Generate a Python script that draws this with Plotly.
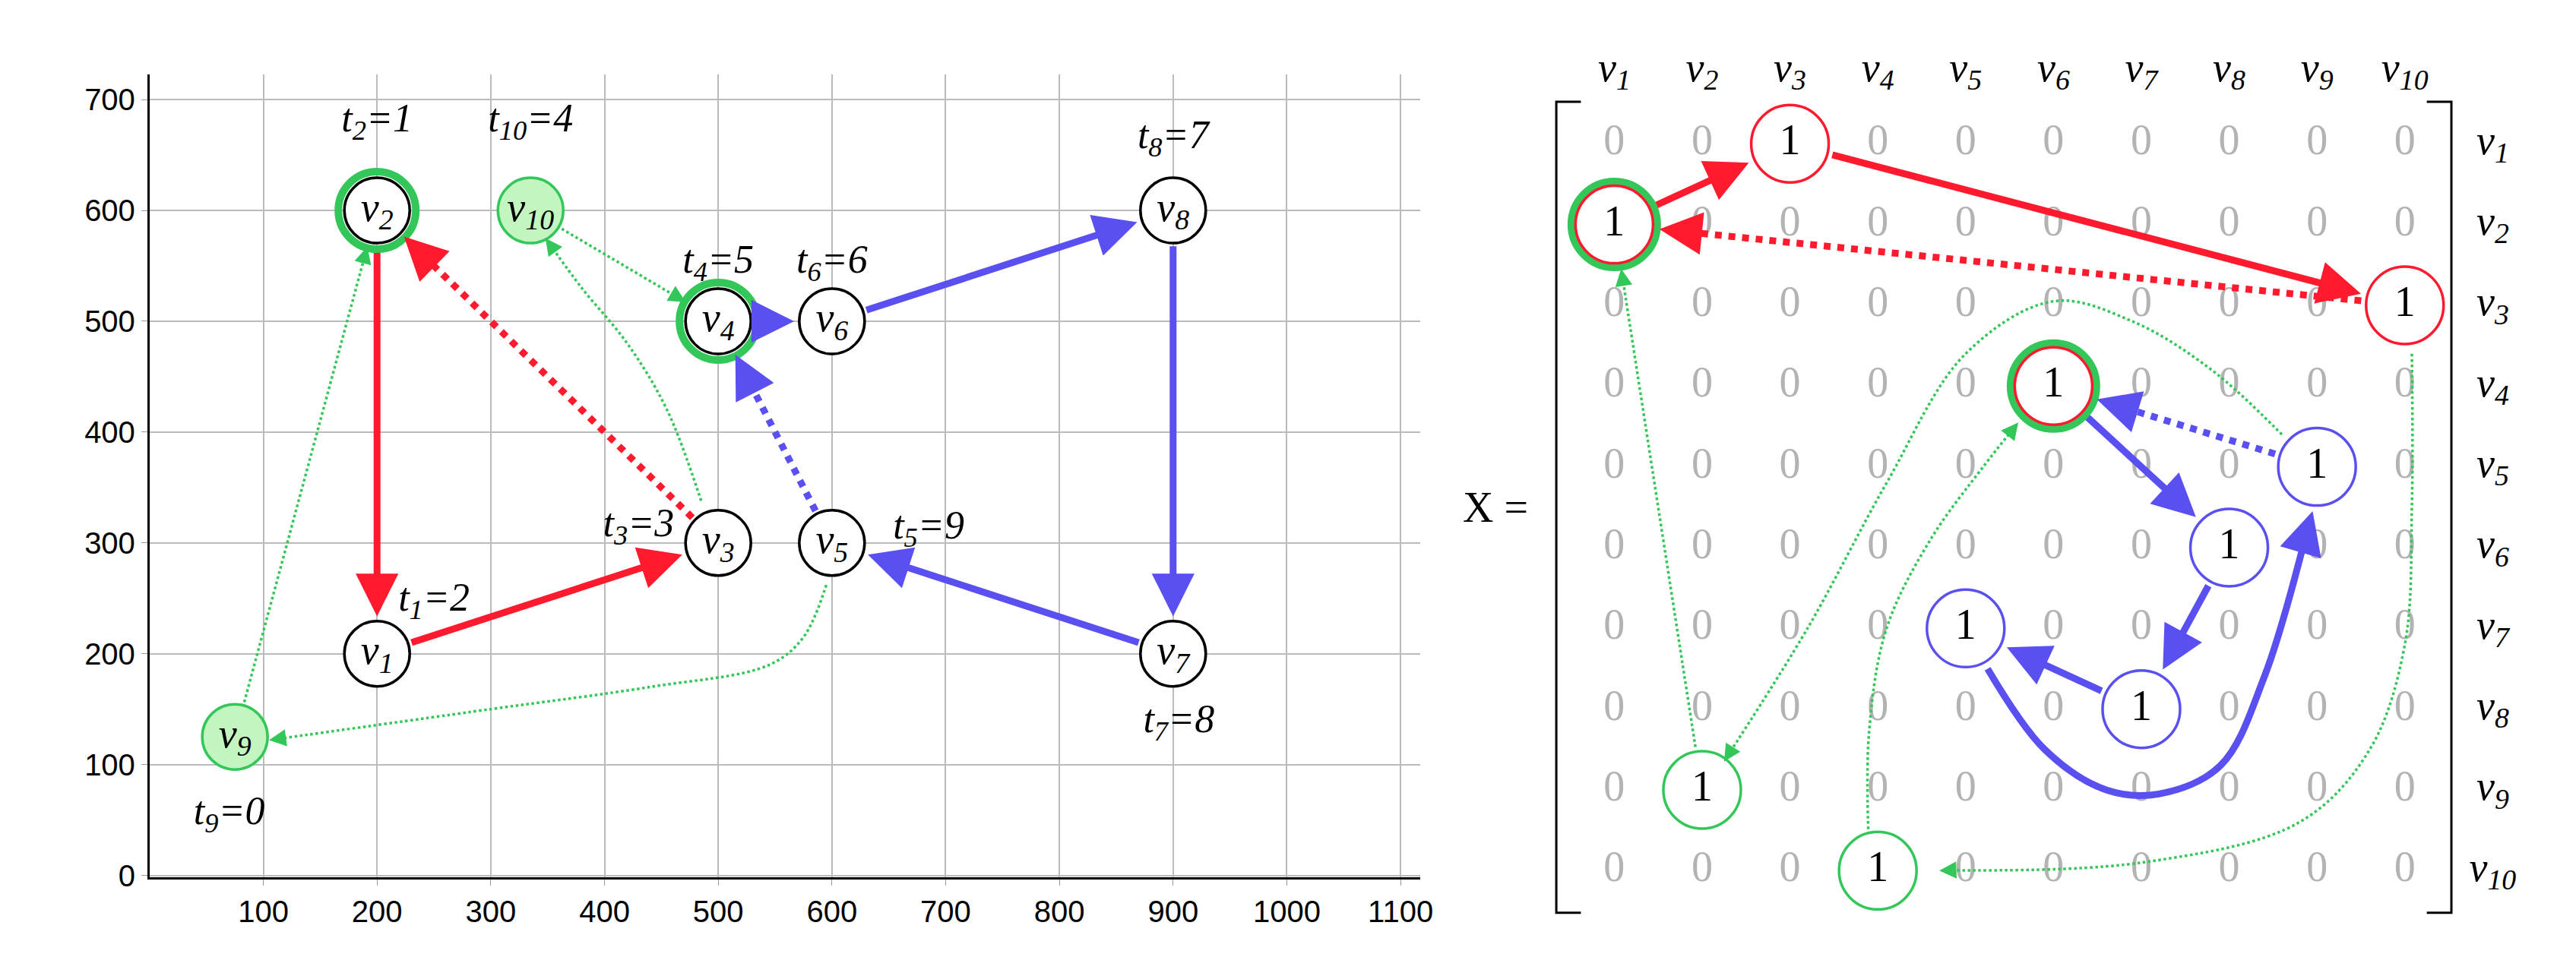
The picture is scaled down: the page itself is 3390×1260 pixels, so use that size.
import numpy as np
import plotly.graph_objects as go

W, H = 3390, 1260
RED, BLUE, GREEN = "#ff1a2e", "#5a4ff0", "#33c759"
LIGHTG = "#c2f5c0"
SERIF = "Liberation Serif"

# ---- left graph data ----
node_x = [200, 200, 500, 500, 600, 600, 900, 900, 75, 335]
node_y = [200, 600, 300, 500, 300, 500, 200, 600, 125, 600]
t_vals = [2, 1, 3, 5, 9, 6, 8, 7, 0, 4]
t_lab_x = [250, 200, 430, 500, 685, 600, 905, 900, 70, 335]
t_lab_y = [248, 680, 315, 553, 313, 553, 138, 665, 55, 680]
ringed = [1, 3]          # v2, v4 green ring
filled = [8, 9]          # v9, v10 light green

# edges: (from, to, colour, style)
g_edges = [(1, 0, RED, "solid"), (0, 2, RED, "solid"), (2, 1, RED, "dot"),
           (3, 5, BLUE, "solid"), (5, 7, BLUE, "solid"), (7, 6, BLUE, "solid"),
           (6, 4, BLUE, "solid"), (4, 3, BLUE, "dot"),
           (8, 1, GREEN, "thin"), (9, 3, GREEN, "thin")]
g_curves = [([485, 455, 420, 380, 348], [338, 420, 480, 530, 575]),
            ([595, 575, 545, 440, 300, 105], [262, 215, 190, 170, 150, 122])]

# ---- matrix data ----
perm_col = [3, 1, 10, 6, 9, 8, 5, 7, 2, 4]   # column of the 1 in each row
row_col = [RED, RED, RED, RED, BLUE, BLUE, BLUE, BLUE, GREEN, GREEN]
m_ring = [2, 4]
m_edges = [(2, 1, RED, "solid"), (1, 3, RED, "solid"), (3, 2, RED, "dot"),
           (4, 6, BLUE, "solid"), (6, 8, BLUE, "solid"), (8, 7, BLUE, "solid"),
           (5, 4, BLUE, "dot"), (9, 2, GREEN, "thin")]
m_curves = [([5.25, 5.9, 6.6, 7.2, 7.9, 8.4, 8.95], [7.5, 8.5, 9.0, 9.05, 8.7, 7.6, 5.55], BLUE, "thick"),
            ([3.9, 3.9, 4.1, 4.6, 5.2, 5.6], [9.75, 8.3, 7.0, 5.9, 5.0, 4.45], GREEN, "thin"),
            ([8.6, 7.8, 6.9, 6.0, 5.0, 4.1, 3.2, 2.25], [4.6, 3.8, 3.2, 2.95, 3.6, 5.2, 7.0, 8.65], GREEN, "thin"),
            ([10.08, 10.08, 10.0, 9.6, 8.8, 7.0, 4.7], [3.6, 5.5, 7.2, 8.5, 9.4, 9.9, 10.0], GREEN, "thin")]
labels = ["v<sub>%d</sub>" % i for i in range(1, 11)]

# axes geometry
XD, YD, XR, YR = [0.056, 0.5516], [0.0754, 0.9278], [0, 1117], [-2, 723]
X2D, Y2D, X2R, Y2R = [0.5589, 0.9873], [0.0056, 0.9825], [-1, 11.5], [10.9, -0.5]


def to_px(x, y, xd, yd, xr, yr):
    px = W * (xd[0] + (x - xr[0]) / (xr[1] - xr[0]) * (xd[1] - xd[0]))
    py = H * (yd[0] + (y - yr[0]) / (yr[1] - yr[0]) * (yd[1] - yd[0]))
    return px, py


def from_px(px, py, xd, yd, xr, yr):
    x = xr[0] + (px / W - xd[0]) / (xd[1] - xd[0]) * (xr[1] - xr[0])
    y = yr[0] + (py / H - yd[0]) / (yd[1] - yd[0]) * (yr[1] - yr[0])
    return x, y


fig = go.Figure()
ann = []


def arrow(xs, ys, col, style, geo, xa, ya, r0=0, r1=0):
    p = [list(to_px(a, b, *geo)) for a, b in zip(xs, ys)]
    if r0:
        d = np.subtract(p[1], p[0]); d /= np.hypot(*d)
        p[0] = list(np.add(p[0], d * r0))
    if r1:
        d = np.subtract(p[-1], p[-2]); d /= np.hypot(*d)
        p[-1] = list(np.subtract(p[-1], d * r1))
    w = {"solid": 9, "dot": 9, "thin": 3.5, "thick": 9}[style]
    dash = {"solid": "solid", "dot": "dot", "thin": "dot", "thick": "solid"}[style]
    d = np.subtract(p[-1], p[-2]); d /= np.hypot(*d)
    hl = 2.5 * w if style != "thin" else 14
    tail = np.subtract(p[-1], d * hl)
    pts = p[:-1] + [list(tail)]
    dx = [from_px(a, b, *geo)[0] for a, b in pts]
    dy = [from_px(a, b, *geo)[1] for a, b in pts]
    fig.add_trace(go.Scatter(x=dx, y=dy, mode="lines", xaxis=xa, yaxis=ya, hoverinfo="skip",
                             line=dict(color=col, width=w, dash=dash, shape="spline"), showlegend=False))
    hx, hy = from_px(*p[-1], *geo)
    bx, by = from_px(*tail, *geo)
    ann.append(dict(x=hx, y=hy, ax=bx, ay=by, xref=xa, yref=ya, axref=xa, ayref=ya,
                    showarrow=True, arrowhead=2, arrowcolor=col, text=" ",
                    font=dict(size=1), standoff=0,
                    arrowwidth=w if style != "thin" else 3,
                    arrowsize=1.25 if style != "thin" else 1.5))


G1 = (XD, YD, XR, YR)
G2 = (X2D, Y2D, X2R, Y2R)

# left graph edges
for a, b, c, s in g_edges:
    arrow([node_x[a], node_x[b]], [node_y[a], node_y[b]], c, s, G1, "x", "y", 48, 50)
for cx, cy in g_curves:
    arrow(cx, cy, GREEN, "thin", G1, "x", "y")

# left nodes
rx = [node_x[i] for i in ringed]; ry = [node_y[i] for i in ringed]
fig.add_trace(go.Scatter(x=rx, y=ry, mode="markers", hoverinfo="skip", showlegend=False,
                         marker=dict(size=102, color="rgba(0,0,0,0)", line=dict(color=GREEN, width=10))))
fill = [LIGHTG if i in filled else "white" for i in range(10)]
edge = [GREEN if i in filled else "black" for i in range(10)]
fig.add_trace(go.Scatter(x=node_x, y=node_y, mode="markers+text", text=labels, hoverinfo="skip",
                         showlegend=False, textfont=dict(family=SERIF, size=54, color="black", style="italic"),
                         marker=dict(size=86, color=fill, line=dict(color=edge, width=3.5))))
fig.add_trace(go.Scatter(x=t_lab_x, y=t_lab_y, mode="text", hoverinfo="skip", showlegend=False,
                         text=["t<sub>%d</sub>=%d" % (i + 1, t) for i, t in enumerate(t_vals)],
                         textfont=dict(family=SERIF, size=52, color="black", style="italic")))

# matrix zeros
zx, zy = [], []
for r in range(1, 11):
    for c in range(1, 11):
        if perm_col[r - 1] != c:
            zx.append(c); zy.append(r)
fig.add_trace(go.Scatter(x=zx, y=zy, mode="text", text=["0"] * len(zx), xaxis="x2", yaxis="y2",
                         hoverinfo="skip", showlegend=False,
                         textfont=dict(family=SERIF, size=56, color="#b3b3b3")))

# matrix arrows
for a, b, c, s in m_edges:
    arrow([perm_col[a - 1], perm_col[b - 1]], [a, b], c, s, G2, "x2", "y2", 58, 60)
for cx, cy, c, s in m_curves:
    arrow(cx, cy, c, s, G2, "x2", "y2")

# matrix ones
ox = perm_col; oy = list(range(1, 11))
fig.add_trace(go.Scatter(x=[perm_col[i - 1] for i in m_ring], y=m_ring, mode="markers", xaxis="x2",
                         yaxis="y2", hoverinfo="skip", showlegend=False,
                         marker=dict(size=112, color="rgba(0,0,0,0)", line=dict(color=GREEN, width=11))))
fig.add_trace(go.Scatter(x=ox, y=oy, mode="markers+text", text=["1"] * 10, xaxis="x2", yaxis="y2",
                         hoverinfo="skip", showlegend=False,
                         textfont=dict(family=SERIF, size=56, color="black"),
                         marker=dict(size=102, color="white", line=dict(color=row_col, width=3.5))))

# headers
fig.add_trace(go.Scatter(x=list(range(1, 11)) + [11] * 10, y=[0.1] * 10 + list(range(1, 11)),
                         mode="text", text=labels + labels, xaxis="x2", yaxis="y2", hoverinfo="skip",
                         showlegend=False, textfont=dict(family=SERIF, size=54, color="black", style="italic")))
ann.append(dict(x=-0.35, y=5.5, xref="x2", yref="y2", text="X =", showarrow=False,
                font=dict(family=SERIF, size=56, color="black")))

# brackets
bl, br, bt, bb, bw = 0.34, 10.53, 0.48, 10.52, 0.28
for xs in ([bl + bw, bl, bl, bl + bw], [br - bw, br, br, br - bw]):
    fig.add_trace(go.Scatter(x=xs, y=[bt, bt, bb, bb], mode="lines", xaxis="x2", yaxis="y2",
                             hoverinfo="skip", showlegend=False, line=dict(color="black", width=3)))

tick_font = dict(family="Liberation Sans Narrow, Liberation Sans", size=40, color="black")
fig.update_layout(
    width=W, height=H, margin=dict(l=0, r=0, t=0, b=0), plot_bgcolor="white", paper_bgcolor="white",
    annotations=ann, showlegend=False,
    xaxis=dict(domain=XD, range=XR, tickvals=list(range(100, 1101, 100)), showgrid=True,
               gridcolor="#bbbbbb", gridwidth=1.5, showline=True, linecolor="black", linewidth=3,
               zeroline=False, ticks="outside", ticklen=8, tickcolor="#999", tickfont=tick_font),
    yaxis=dict(domain=YD, range=YR, tickvals=list(range(0, 701, 100)), showgrid=True,
               gridcolor="#bbbbbb", gridwidth=1.5, showline=True, linecolor="black", linewidth=3,
               zeroline=False, ticks="outside", ticklen=8, tickcolor="#999", tickfont=tick_font),
    xaxis2=dict(domain=X2D, range=X2R, visible=False, anchor="y2"),
    yaxis2=dict(domain=Y2D, range=Y2R, visible=False, anchor="x2"),
)
fig.write_html("out.html")
